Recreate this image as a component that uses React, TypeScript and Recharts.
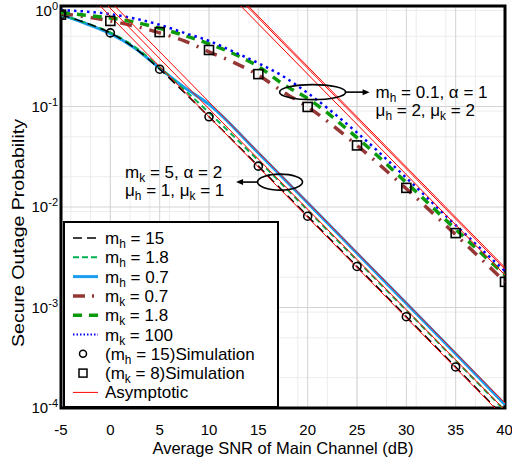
import React from 'react';
import {
  ComposedChart,
  Line,
  XAxis,
  YAxis,
  CartesianGrid,
  ReferenceArea,
  ReferenceDot,
} from 'recharts';

// lower group: m_k = 5, alpha = 2, mu_h = 1, mu_k = 1
const snrLower = [-5, -2.5, 0, 2.5, 5, 7.5, 10, 15, 20, 25, 30, 35, 40];
const mh15 = [0.82, 0.68, 0.54, 0.38, 0.235, 0.138, 0.079, 0.0255, 0.0081, 0.00256, 0.00081, 0.000256, 0.00008];
const mh18 = [0.82, 0.68, 0.545, 0.39, 0.245, 0.147, 0.087, 0.029, 0.0093, 0.00295, 0.00094, 0.000297, 0.000094];
const mh07 = [0.82, 0.67, 0.53, 0.38, 0.24, 0.155, 0.105, 0.0345, 0.011, 0.00346, 0.0011, 0.000346, 0.000108];

// upper group: m_h = 0.1, alpha = 1, mu_h = 2, mu_k = 2
const snrUpper = [-5, -2.5, 0, 2.5, 5, 7.5, 10, 12.5, 15, 17.5, 20, 25, 30, 35, 40];
const mk07 = [0.84, 0.78, 0.71, 0.63, 0.54, 0.45, 0.35, 0.275, 0.205, 0.14, 0.099, 0.041, 0.0152, 0.0053, 0.0018];
const mk18 = [0.86, 0.81, 0.76, 0.69, 0.6, 0.51, 0.42, 0.335, 0.25, 0.167, 0.12, 0.049, 0.0175, 0.006, 0.0021];
const mk100 = [0.91, 0.88, 0.83, 0.75, 0.65, 0.54, 0.45, 0.35, 0.27, 0.2, 0.136, 0.055, 0.0195, 0.0066, 0.0023];

// simulation markers
const simSnrH = [-5, 0, 5, 10, 15, 20, 25, 30, 35];
const simMh15 = [0.82, 0.54, 0.235, 0.079, 0.0255, 0.0081, 0.00256, 0.00081, 0.000256];
const simSnrK = [-5, 0, 5, 10, 15, 20, 25, 30, 35, 40];
const simMk8 = [0.82, 0.71, 0.55, 0.365, 0.21, 0.099, 0.041, 0.0155, 0.0055, 0.0018];

// asymptotes (straight lines on the log axis, end points)
const asymSnrLower = [-5, 40];
const asymMh15 = [2.5, 0.000079];
const asymMh18 = [3.0, 0.000095];
const asymMh07 = [3.5, 0.000112];
const asymSnrUpper = [10, 40];
const asymMk07 = [2.1, 0.0021];
const asymMk18 = [2.4, 0.0024];
const asymMk100 = [2.5, 0.0025];

// axis ticks
const xTicks = [-5, 0, 5, 10, 15, 20, 25, 30, 35, 40];
const xMinorTicks = Array.from({ length: 46 }, (_, i) => i - 5);
const yTicks = [1e-4, 1e-3, 1e-2, 1e-1, 1];
const mantissas = [2, 3, 4, 5, 6, 7, 8, 9];
const yMinorTicks = [1e-4, 1e-3, 1e-2, 1e-1].flatMap((d) => mantissas.map((m) => m * d));

const toRows = (xs: number[], ys: number[]) => xs.map((x, i) => ({ x, y: ys[i] }));

const FONT = '"Liberation Sans", Arial, sans-serif';

function YTick({ x, y, payload }: any) {
  const exp = Math.round(Math.log10(payload.value));
  // the top label sits a little lower so it stays inside the figure
  const base = Math.max(y + 5, 16);
  return (
    <text x={x} y={base} textAnchor="end" fontSize={15} fill="#000">
      10
      <tspan dy={-6} fontSize={11}>
        {String(exp)}
      </tspan>
    </text>
  );
}

const circleDot = (p: any) =>
  p.cx == null ? <g key={p.key} /> : (
    <circle key={p.key} cx={p.cx} cy={p.cy} r={4} fill="none" stroke="#000" strokeWidth={1.6} />
  );
const squareDot = (p: any) =>
  p.cx == null ? <g key={p.key} /> : (
    <rect key={p.key} x={p.cx - 4.5} y={p.cy - 4.5} width={9} height={9} fill="none" stroke="#000" strokeWidth={1.6} />
  );

// text with a subscript: parts = [before, sub, after, sub, after ...]
function SubText({ x, y, parts, size = 17, anchor = 'start' }: any) {
  return (
    <text x={x} y={y} fontSize={size} fill="#000" textAnchor={anchor}>
      {parts.map((p: string, i: number) =>
        i % 2 === 1 ? (
          <tspan key={i} fontSize={size * 0.7} dy={4}>
            {p}
          </tspan>
        ) : (
          <tspan key={i} dy={i === 0 ? 0 : -4}>
            {p}
          </tspan>
        )
      )}
    </text>
  );
}

function UpperNote({ cx, cy }: any) {
  return (
    <g>
      <ellipse cx={cx} cy={cy} rx={33} ry={7.5} fill="none" stroke="#000" strokeWidth={1.6} />
      <line x1={cx + 33} y1={cy} x2={cx + 51} y2={cy} stroke="#000" strokeWidth={1.6} />
      <polygon points={`${cx + 57},${cy} ${cx + 50},${cy - 3} ${cx + 50},${cy + 3}`} fill="#000" />
      <SubText x={cx + 63} y={cy + 6} parts={['m', 'h', ' = 0.1, α = 1']} />
      <SubText x={cx + 63} y={cy + 24} parts={['μ', 'h', ' = 2, μ', 'k', ' = 2']} />
    </g>
  );
}

function LowerNote({ cx, cy }: any) {
  return (
    <g>
      <ellipse cx={cx} cy={cy} rx={22.5} ry={8} fill="none" stroke="#000" strokeWidth={1.6} />
      <line x1={cx - 22.5} y1={cy} x2={cx - 38} y2={cy} stroke="#000" strokeWidth={1.6} />
      <polygon points={`${cx - 44},${cy} ${cx - 37},${cy - 3} ${cx - 37},${cy + 3}`} fill="#000" />
      <SubText x={cx - 155} y={cy - 4} parts={['m', 'k', ' = 5, α = 2']} />
      <SubText x={cx - 155} y={cy + 14} parts={['μ', 'h', ' = 1, μ', 'k', ' = 1']} />
    </g>
  );
}

const legendRows = [
  { parts: ['m', 'h', ' = 15'], stroke: '#000', width: 1.5, dash: '9 5' },
  { parts: ['m', 'h', ' = 1.8'], stroke: '#00b050', width: 2, dash: '6 3' },
  { parts: ['m', 'h', ' = 0.7'], stroke: '#1a9cf0', width: 3, dash: undefined },
  { parts: ['m', 'k', ' = 0.7'], stroke: '#953735', width: 3.5, dash: '12 7 2 7' },
  { parts: ['m', 'k', ' = 1.8'], stroke: '#0a9a0a', width: 3.5, dash: '9 7' },
  { parts: ['m', 'k', ' = 100'], stroke: '#0000ff', width: 2, dash: '1.5 2' },
  { parts: ['(m', 'h', ' = 15)Simulation'], marker: 'circle' },
  { parts: ['(m', 'k', ' = 8)Simulation'], marker: 'square' },
  { parts: ['Asymptotic'], stroke: '#ff0000', width: 1 },
];

function LegendBox() {
  return (
    <svg width={216} height={187} style={{ position: 'absolute', left: 63, top: 221 }}>
      <rect x={1} y={1} width={214} height={185} fill="#fff" stroke="#000" strokeWidth={2} />
      {legendRows.map((r: any, i) => {
        const cy = 17 + i * 19.3;
        return (
          <g key={i}>
            {r.marker === 'circle' && (
              <circle cx={20} cy={cy} r={3.5} fill="none" stroke="#000" strokeWidth={1.5} />
            )}
            {r.marker === 'square' && (
              <rect x={16} y={cy - 4} width={8} height={8} fill="none" stroke="#000" strokeWidth={1.5} />
            )}
            {!r.marker && (
              <line x1={10} y1={cy} x2={35} y2={cy} stroke={r.stroke} strokeWidth={r.width} strokeDasharray={r.dash} />
            )}
            <SubText x={42} y={cy + 6} parts={r.parts} />
          </g>
        );
      })}
    </svg>
  );
}

export default function App() {
  return (
    <div style={{ position: 'absolute', left: 0, top: 0, width: 512, height: 466, fontFamily: FONT, background: '#fff' }}>
      <ComposedChart width={512} height={466} margin={{ top: 6, right: 7, bottom: 0, left: 0 }}>
        <XAxis xAxisId="minor" type="number" dataKey="x" domain={[-5, 40]} ticks={xMinorTicks} hide allowDataOverflow />
        <YAxis yAxisId="minor" type="number" scale="log" domain={[1e-4, 1]} ticks={yMinorTicks} hide allowDataOverflow />
        <CartesianGrid xAxisId="minor" yAxisId="minor" stroke="#ececec" />
        <CartesianGrid stroke="#d4d4d4" />
        <XAxis
          type="number"
          dataKey="x"
          domain={[-5, 40]}
          ticks={xTicks}
          height={58}
          axisLine={false}
          tickLine={false}
          tickSize={0}
          tickMargin={16}
          tick={{ fontSize: 15, fill: '#000' }}
          allowDataOverflow
          label={{ value: 'Average SNR of Main Channel (dB)', position: 'insideBottom', offset: 12, fill: '#000', fontSize: 16.5 }}
        />
        <YAxis
          type="number"
          scale="log"
          domain={[1e-4, 1]}
          ticks={yTicks}
          width={61}
          axisLine={false}
          tickLine={false}
          tickSize={0}
          tickMargin={3}
          tick={<YTick />}
          allowDataOverflow
          label={(p: any) => {
            const vb = p.viewBox || { x: 0, y: 6, width: 61, height: 402 };
            const lx = vb.x + 18;
            const ly = vb.y + vb.height / 2 + 26;
            return (
              <text
                x={lx}
                y={ly}
                transform={`rotate(-90 ${lx} ${ly})`}
                textAnchor="middle"
                dominantBaseline="central"
                fontSize={17}
                fill="#000"
                textLength={228}
                lengthAdjust="spacingAndGlyphs"
              >
                Secure Outage Probability
              </text>
            );
          }}
        />

        <Line data={toRows(snrLower, mh07)} dataKey="y" type="monotone" stroke="#1a9cf0" strokeWidth={3} dot={false} isAnimationActive={false} />
        <Line data={toRows(snrLower, mh18)} dataKey="y" type="monotone" stroke="#00b050" strokeWidth={2} strokeDasharray="6 4" dot={false} isAnimationActive={false} />
        <Line data={toRows(snrLower, mh15)} dataKey="y" type="monotone" stroke="#000" strokeWidth={1.5} strokeDasharray="9 5" dot={false} isAnimationActive={false} />

        <Line data={toRows(snrUpper, mk07)} dataKey="y" type="monotone" stroke="#953735" strokeWidth={3.5} strokeDasharray="12 8 2 8" dot={false} isAnimationActive={false} />
        <Line data={toRows(snrUpper, mk18)} dataKey="y" type="monotone" stroke="#0a9a0a" strokeWidth={3.5} strokeDasharray="9 7" dot={false} isAnimationActive={false} />
        <Line data={toRows(snrUpper, mk100)} dataKey="y" type="monotone" stroke="#0000ff" strokeWidth={2.5} strokeDasharray="2.5 4" dot={false} isAnimationActive={false} />

        <Line data={toRows(asymSnrLower, asymMh15)} dataKey="y" type="linear" stroke="#ff0000" strokeWidth={1} dot={false} isAnimationActive={false} />
        <Line data={toRows(asymSnrLower, asymMh18)} dataKey="y" type="linear" stroke="#ff0000" strokeWidth={1} dot={false} isAnimationActive={false} />
        <Line data={toRows(asymSnrLower, asymMh07)} dataKey="y" type="linear" stroke="#ff0000" strokeWidth={1} dot={false} isAnimationActive={false} />
        <Line data={toRows(asymSnrUpper, asymMk07)} dataKey="y" type="linear" stroke="#ff0000" strokeWidth={1} dot={false} isAnimationActive={false} />
        <Line data={toRows(asymSnrUpper, asymMk18)} dataKey="y" type="linear" stroke="#ff0000" strokeWidth={1} dot={false} isAnimationActive={false} />
        <Line data={toRows(asymSnrUpper, asymMk100)} dataKey="y" type="linear" stroke="#ff0000" strokeWidth={1} dot={false} isAnimationActive={false} />

        <Line data={toRows(simSnrH, simMh15)} dataKey="y" stroke="none" dot={circleDot} isAnimationActive={false} />
        <Line data={toRows(simSnrK, simMk8)} dataKey="y" stroke="none" dot={squareDot} isAnimationActive={false} />

        <ReferenceArea x1={-5} x2={40} y1={1e-4} y2={1} fill="none" stroke="#000" strokeWidth={3} ifOverflow="visible" />

        <ReferenceDot x={20.5} y={0.139} r={0} ifOverflow="visible" shape={(p: any) => <UpperNote cx={p.cx} cy={p.cy} />} />
        <ReferenceDot x={17.2} y={0.0177} r={0} ifOverflow="visible" shape={(p: any) => <LowerNote cx={p.cx} cy={p.cy} />} />
      </ComposedChart>
      <LegendBox />
    </div>
  );
}
